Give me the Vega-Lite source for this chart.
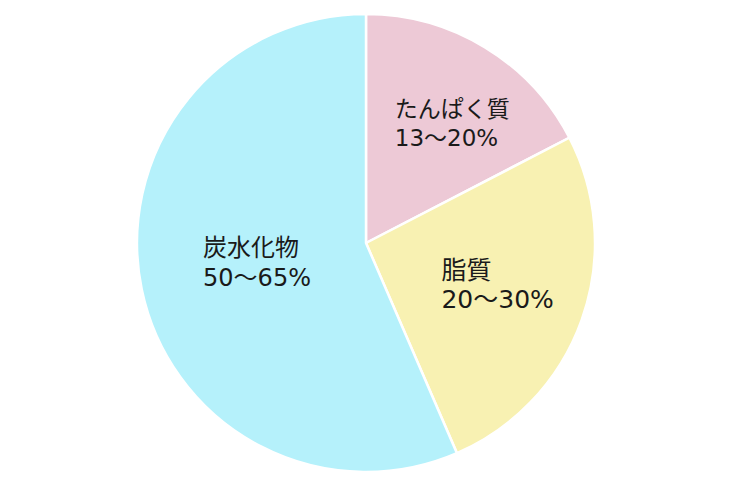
{
  "$schema": "https://vega.github.io/schema/vega-lite/v6.json",
  "width": 732,
  "height": 489,
  "autosize": {"type": "fit", "contains": "padding"},
  "padding": {"left": 0, "right": 0, "top": 0, "bottom": 3},
  "background": "white",
  "view": {"stroke": null},
  "data": {
    "values": [
      {"name": "たんぱく質", "label": "たんぱく質\n13〜20%", "value": 17.4, "order": 1},
      {"name": "脂質", "label": "脂質\n20〜30%", "value": 26.1, "order": 2},
      {"name": "炭水化物", "label": "炭水化物\n50〜65%", "value": 56.5, "order": 3}
    ]
  },
  "encoding": {
    "theta": {"field": "value", "type": "quantitative", "stack": true},
    "order": {"field": "order", "type": "quantitative"}
  },
  "layer": [
    {
      "mark": {"type": "arc", "outerRadius": 229, "stroke": "white", "strokeWidth": 2.5},
      "encoding": {
        "color": {
          "field": "name",
          "type": "nominal",
          "scale": {"domain": ["たんぱく質", "脂質", "炭水化物"], "range": ["#EDC9D6", "#F8F1B2", "#B5F1FB"]},
          "legend": null
        }
      }
    },
    {
      "mark": {"type": "text", "radius": 140, "align": "left", "baseline": "middle", "lineBreak": "\n", "fontSize": 23, "lineHeight": 29, "font": "DejaVu Sans, Noto Sans CJK JP", "color": "#1A1A1A", "dx": -44, "dy": -13},
      "encoding": {"text": {"condition": {"test": "datum.name === 'たんぱく質'", "field": "label"}, "value": ""}}
    },
    {
      "mark": {"type": "text", "radius": 130, "align": "left", "baseline": "middle", "lineBreak": "\n", "fontSize": 25, "lineHeight": 29, "font": "DejaVu Sans, Noto Sans CJK JP", "color": "#1A1A1A", "dx": -47, "dy": -16},
      "encoding": {"text": {"condition": {"test": "datum.name === '脂質'", "field": "label"}, "value": ""}}
    },
    {
      "mark": {"type": "text", "radius": 100, "align": "left", "baseline": "middle", "lineBreak": "\n", "fontSize": 24, "lineHeight": 30, "font": "DejaVu Sans, Noto Sans CJK JP", "color": "#1A1A1A", "dx": -65, "dy": -14},
      "encoding": {"text": {"condition": {"test": "datum.name === '炭水化物'", "field": "label"}, "value": ""}}
    }
  ]
}
